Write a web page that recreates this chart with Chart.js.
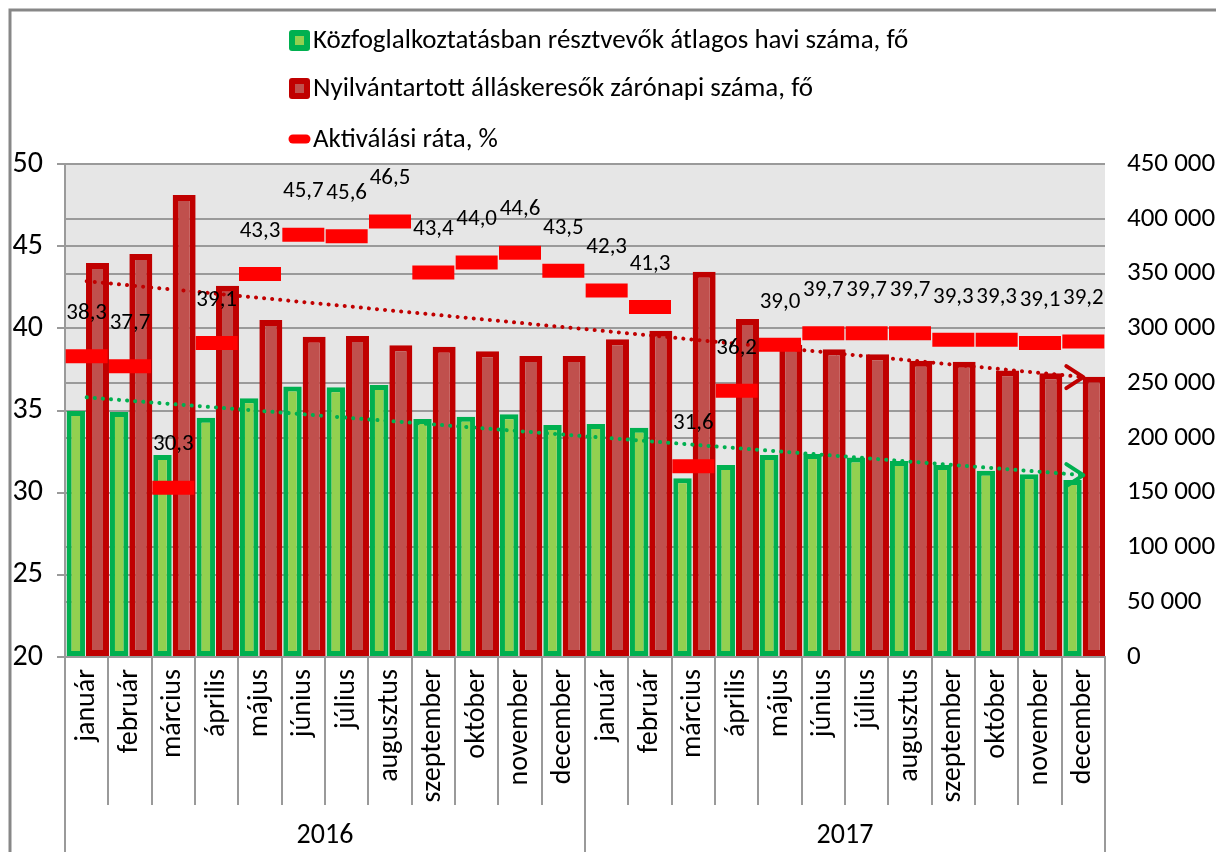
<!DOCTYPE html>
<html>
<head>
<meta charset="utf-8">
<script src="https://cdn.jsdelivr.net/npm/chart.js@4.4.1/dist/chart.umd.min.js"></script>
<style>
  body { margin: 0; background: #fff; }
  #wrap { width: 1216px; height: 852px; position: relative; }
</style>
</head>
<body>
<div id="wrap"><canvas id="chart"></canvas></div>
<script>
const months = ["január", "február", "március", "április", "május", "június",
  "július", "augusztus", "szeptember", "október", "november", "december"];
const years = ["2016", "2017"];

// Közfoglalkoztatásban résztvevők (fő)
const publicWorkers = [224600, 223600, 184400, 218400, 236100, 246800, 246200, 248300, 217200, 219400, 221500, 211800,
  212700, 209300, 163100, 175300, 184400, 185300, 182000, 178900, 175300, 170100, 166700, 161600];
// Nyilvántartott álláskeresők (fő)
const jobSeekers = [359600, 367900, 421700, 338900, 307600, 292400, 293000, 284500, 283300, 279000, 274800, 274800,
  290000, 297900, 351700, 308500, 285000, 280900, 276300, 270500, 269600, 261400, 259000, 255900];
// Aktiválási ráta (%)
const activationRate = [38.3, 37.7, 30.3, 39.1, 43.3, 45.7, 45.6, 46.5, 43.4, 44.0, 44.6, 43.5,
  42.3, 41.3, 31.6, 36.2, 39.0, 39.7, 39.7, 39.7, 39.3, 39.3, 39.1, 39.2];
// trend lines, start and end values
const publicWorkersTrend = [237000, 166000];
const jobSeekersTrend = [343000, 255500];

const labels = years.flatMap(() => months);
const FONT = "Carlito, Lato, sans-serif";
const GRID = "#9a9a9a";

function trendSeries(ends) {
  return labels.map((_, i) => (i === 0 ? ends[0] : i === labels.length - 1 ? ends[1] : null));
}

function fmtThousands(v) {
  return String(v).replace(/\B(?=(\d{3})+(?!\d))/g, " ");
}

const decor = {
  id: "decor",
  beforeDraw(chart) {
    const { ctx, chartArea: a } = chart;
    ctx.save();
    ctx.fillStyle = "#fff";
    ctx.fillRect(0, 0, chart.width, chart.height);
    ctx.fillStyle = "#e6e6e6";
    ctx.fillRect(a.left, a.top, a.right - a.left, a.bottom - a.top);
    ctx.restore();
  },
  afterDatasetsDraw(chart) {
    const ctx = chart.ctx;
    ctx.save();
    // arrow heads on trend lines
    chart.data.datasets.forEach((ds, di) => {
      if (!ds.isTrend) return;
      const pts = chart.getDatasetMeta(di).data;
      const p = pts[pts.length - 1];
      ctx.strokeStyle = ds.borderColor;
      ctx.lineWidth = 4;
      ctx.lineCap = "round";
      ctx.lineJoin = "round";
      ctx.beginPath();
      ctx.moveTo(p.x - 17, p.y - 11);
      ctx.lineTo(p.x, p.y);
      ctx.lineTo(p.x - 17, p.y + 11);
      ctx.stroke();
    });
    // value labels above the rate marks
    const ri = chart.data.datasets.findIndex(ds => ds.isRate);
    const meta = chart.getDatasetMeta(ri);
    ctx.fillStyle = "#000";
    ctx.font = "23px " + FONT;
    ctx.textAlign = "center";
    ctx.textBaseline = "middle";
    meta.data.forEach((p, i) => {
      const v = chart.data.datasets[ri].data[i];
      ctx.fillText(v.toFixed(1).replace(".", ","), p.x, p.y - 43);
    });
    ctx.restore();
  },
  afterDraw(chart) {
    const { ctx, chartArea: a } = chart;
    const x = chart.scales.x;
    ctx.save();
    // category separators under the axis
    const step = x.getPixelForValue(1) - x.getPixelForValue(0);
    const left = x.getPixelForValue(0) - step / 2;
    ctx.strokeStyle = GRID;
    ctx.lineWidth = 2;
    for (let i = 0; i <= labels.length; i++) {
      const px = Math.round(left + i * step);
      ctx.beginPath();
      ctx.moveTo(px, a.bottom);
      ctx.lineTo(px, i % months.length === 0 ? chart.height : 805);
      ctx.stroke();
    }
    ctx.fillStyle = "#000";
    ctx.font = "28px " + FONT;
    ctx.textAlign = "center";
    ctx.textBaseline = "middle";
    years.forEach((y, k) => {
      ctx.fillText(y, left + (k * months.length + months.length / 2) * step, 836);
    });

    // outer frame
    ctx.strokeStyle = "#878787";
    ctx.lineWidth = 3;
    ctx.beginPath();
    ctx.moveTo(10, chart.height);
    ctx.lineTo(10, 10);
    ctx.lineTo(chart.width, 10);
    ctx.stroke();

    // legend
    const rows = [40, 88, 139];
    const items = chart.data.datasets.filter(ds => !ds.isTrend);
    ctx.font = "27px " + FONT;
    ctx.textAlign = "left";
    items.forEach((ds, i) => {
      const y = rows[i];
      if (ds.isRate) {
        ctx.strokeStyle = ds.pointBorderColor;
        ctx.lineWidth = 9;
        ctx.lineCap = "round";
        ctx.beginPath();
        ctx.moveTo(293, y);
        ctx.lineTo(306, y);
        ctx.stroke();
      } else {
        ctx.fillStyle = ds.borderColor;
        ctx.beginPath();
        ctx.roundRect(289, y - 10, 21, 21, 3);
        ctx.fill();
        ctx.fillStyle = ds.backgroundColor;
        ctx.fillRect(295, y - 4, 9, 9);
      }
      ctx.fillStyle = "#000";
      ctx.fillText(ds.label, 313, y + 1);
    });
    ctx.restore();
  }
};

new Chart(document.getElementById("chart"), {
  data: {
    labels,
    datasets: [
      {
        type: "bar",
        label: "Közfoglalkoztatásban résztvevők átlagos havi száma, fő",
        data: publicWorkers,
        yAxisID: "y1",
        backgroundColor: "#92d050",
        borderColor: "#00b050",
        borderWidth: 5,
        borderSkipped: false,
        categoryPercentage: 1.0,
        barPercentage: 0.85,
        order: 3
      },
      {
        type: "bar",
        label: "Nyilvántartott álláskeresők zárónapi száma, fő",
        data: jobSeekers,
        yAxisID: "y1",
        backgroundColor: "#c0504d",
        borderColor: "#c00000",
        borderWidth: 6,
        borderSkipped: false,
        categoryPercentage: 1.0,
        barPercentage: 1.06,
        order: 4
      },
      {
        type: "line",
        label: "Aktiválási ráta, %",
        isRate: true,
        data: activationRate,
        yAxisID: "y",
        showLine: false,
        pointStyle: "line",
        pointRadius: 21,
        pointHoverRadius: 21,
        pointBorderWidth: 14,
        pointBorderColor: "#ff0000",
        borderColor: "#ff0000",
        order: 1
      },
      {
        type: "line",
        label: "trend1",
        isTrend: true,
        data: trendSeries(publicWorkersTrend),
        yAxisID: "y1",
        spanGaps: true,
        borderColor: "#00b050",
        borderWidth: 4,
        borderDash: [0.1, 8],
        borderCapStyle: "round",
        pointRadius: 0,
        order: 2
      },
      {
        type: "line",
        label: "trend2",
        isTrend: true,
        data: trendSeries(jobSeekersTrend),
        yAxisID: "y1",
        spanGaps: true,
        borderColor: "#c00000",
        borderWidth: 4,
        borderDash: [0.1, 8],
        borderCapStyle: "round",
        pointRadius: 0,
        order: 2
      }
    ]
  },
  options: {
    responsive: true,
    maintainAspectRatio: false,
    animation: false,
    layout: { padding: { top: 164, left: 0, right: 0, bottom: 0 } },
    plugins: {
      legend: { display: false },
      tooltip: { enabled: false }
    },
    scales: {
      x: {
        grid: { display: false },
        border: { display: true, color: GRID, width: 2 },
        ticks: {
          autoSkip: false,
          maxRotation: 90,
          minRotation: 90,
          padding: 4,
          color: "#000",
          font: { family: FONT, size: 28 }
        },
        afterFit(scale) { scale.height = 195; }
      },
      y: {
        position: "left",
        min: 20,
        max: 50,
        ticks: { stepSize: 5, padding: 14, color: "#000", font: { family: FONT, size: 30 } },
        grid: { color: GRID, lineWidth: 2, tickLength: 8 },
        border: { display: true, color: GRID, width: 2 },
        afterFit(scale) { scale.width = 65; }
      },
      y1: {
        position: "right",
        min: 0,
        max: 450000,
        ticks: {
          stepSize: 50000,
          padding: 22,
          color: "#000",
          font: { family: FONT, size: 27 },
          callback: v => fmtThousands(v)
        },
        grid: { color: GRID, lineWidth: 2, drawTicks: false },
        border: { display: false },
        afterFit(scale) { scale.width = 111; }
      }
    }
  },
  plugins: [decor]
});
</script>
</body>
</html>
